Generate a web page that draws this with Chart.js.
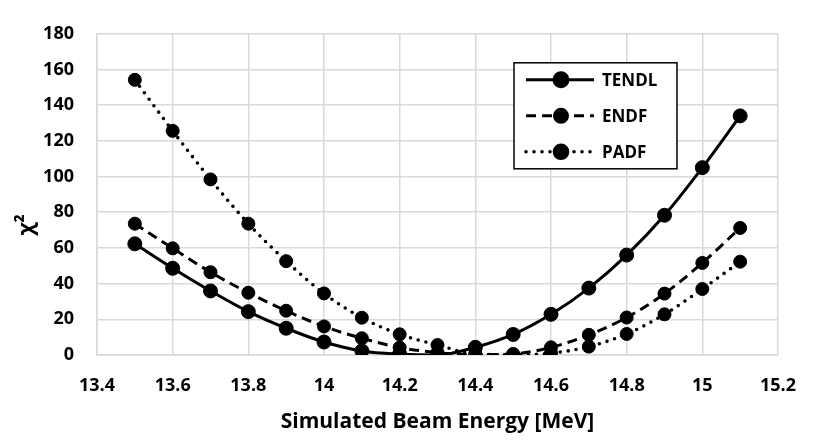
<!DOCTYPE html>
<html>
<head>
<meta charset="utf-8">
<script src="https://cdn.jsdelivr.net/npm/chart.js@4/dist/chart.umd.min.js"></script>
<style>
  html, body { margin: 0; padding: 0; background: #fff; }
  #wrap { width: 816px; height: 442px; }
</style>
</head>
<body>
<div id="wrap"><canvas id="myChart"></canvas></div>
<script>
var energy = [13.5, 13.6, 13.7, 13.8, 13.9, 14.0, 14.1, 14.2, 14.3, 14.4, 14.5, 14.6, 14.7, 14.8, 14.9, 15.0, 15.1];
var tendl = [62.3, 48.6, 35.9, 24.3, 15.0, 7.3, 2.3, 0.5, 0.0, 4.3, 11.5, 22.8, 37.5, 56.0, 78.3, 105.0, 134.0];
var endf = [73.6, 59.8, 46.4, 34.9, 24.8, 16.0, 9.4, 4.2, 1.3, 0.2, 0.6, 4.3, 11.3, 21.0, 34.4, 51.6, 71.2];
var padf = [154.2, 125.6, 98.4, 73.6, 52.6, 34.5, 20.9, 11.6, 5.6, 0.6, 0.1, 1.0, 4.7, 11.8, 22.8, 37.0, 52.3];
var seriesNames = ['TENDL', 'ENDF', 'PADF'];
var xTitle = 'Simulated Beam Energy [MeV]';
var yTitle = 'χ²';

var FONT = '"Open Sans", "Noto Sans", sans-serif';

function pts(values) {
    return energy.map(function(e, i) { return {x: e, y: values[i]}; });
}

function lineSet(label, values, width, dash, cap, radius) {
    return {
        label: label,
        data: pts(values),
        borderColor: '#000',
        backgroundColor: '#000',
        borderWidth: width,
        borderDash: dash,
        borderCapStyle: cap,
        pointRadius: radius,
        pointHoverRadius: radius,
        pointBackgroundColor: '#000',
        pointBorderColor: '#000',
        pointBorderWidth: 1,
        cubicInterpolationMode: 'monotone',
        fill: false
    };
}

// legend box drawn inside the plot area, like the original
var boxLegend = {
    id: 'boxLegend',
    afterDraw: function(chart) {
        var c = chart.ctx, a = chart.chartArea;
        var left = a.left + 417, top = a.top + 29, w = 163, h = 106;
        c.save();
        c.fillStyle = '#fff';
        c.fillRect(left, top, w, h);
        c.strokeStyle = '#000';
        c.lineWidth = 1.5;
        c.strokeRect(left, top, w, h);
        chart.data.datasets.forEach(function(ds, i) {
            var y = top + 17 + i * 36;
            c.beginPath();
            c.strokeStyle = '#000';
            c.lineWidth = ds.borderWidth;
            c.lineCap = ds.borderCapStyle;
            c.setLineDash(ds.borderDash);
            c.moveTo(left + 12, y);
            c.lineTo(left + 80, y);
            c.stroke();
            c.setLineDash([]);
            Chart.helpers.drawPoint(c, {pointStyle: 'circle', radius: ds.pointRadius, borderWidth: 1, rotation: 0}, left + 47, y);
            c.fillStyle = '#000';
            c.fill();
            c.font = 'bold 17px ' + FONT;
            c.textBaseline = 'middle';
            c.fillText(ds.label, left + 88, y + 1);
        });
        c.restore();
    }
};

var yTitlePlugin = {
    id: 'yTitlePlugin',
    afterDraw: function(chart) {
        var c = chart.ctx, a = chart.chartArea;
        c.save();
        c.translate(27, a.top + (a.bottom - a.top) * 0.595);
        c.rotate(-Math.PI / 2);
        c.fillStyle = '#000';
        c.font = 'bold 22px ' + FONT;
        c.textAlign = 'center';
        c.textBaseline = 'middle';
        c.fillText(yTitle, 0, 0);
        c.restore();
    }
};

var ctx = document.getElementById('myChart');

var myChart = new Chart(ctx, {
    type: 'line',
    data: {
        datasets: [
            lineSet(seriesNames[0], tendl, 3, [], 'butt', 7),
            lineSet(seriesNames[1], endf, 3, [10, 6], 'butt', 6.5),
            lineSet(seriesNames[2], padf, 3.6, [0, 8], 'round', 6.5)
        ]
    },
    options: {
        responsive: true,
        maintainAspectRatio: false,
        animation: false,
        layout: { padding: { top: 15, right: 24, left: 0, bottom: 0 } },
        plugins: {
            legend: { display: false },
            tooltip: { enabled: false }
        },
        scales: {
            x: {
                type: 'linear',
                min: 13.4,
                max: 15.2,
                afterFit: function(s) { s.height = 87; },
                ticks: {
                    stepSize: 0.2,
                    padding: 20,
                    color: '#000',
                    font: { family: FONT, size: 18, weight: '700' },
                    callback: function(v) { return String(+v.toFixed(1)); }
                },
                grid: { color: '#d9d9d9', lineWidth: 1.5, drawTicks: false },
                border: { color: '#d9d9d9', width: 1.5 },
                title: {
                    display: true,
                    text: xTitle,
                    color: '#000',
                    font: { family: FONT, size: 21, weight: '700' },
                    padding: { top: 0, bottom: 7 }
                }
            },
            y: {
                min: 0,
                max: 180,
                afterFit: function(s) { s.width = 97; },
                ticks: {
                    stepSize: 20,
                    padding: 23,
                    color: '#000',
                    font: { family: FONT, size: 18, weight: '700' }
                },
                grid: { color: '#d9d9d9', lineWidth: 1.5, drawTicks: false },
                border: { color: '#d9d9d9', width: 1.5 }
            }
        }
    },
    plugins: [boxLegend, yTitlePlugin]
});
</script>
</body>
</html>
